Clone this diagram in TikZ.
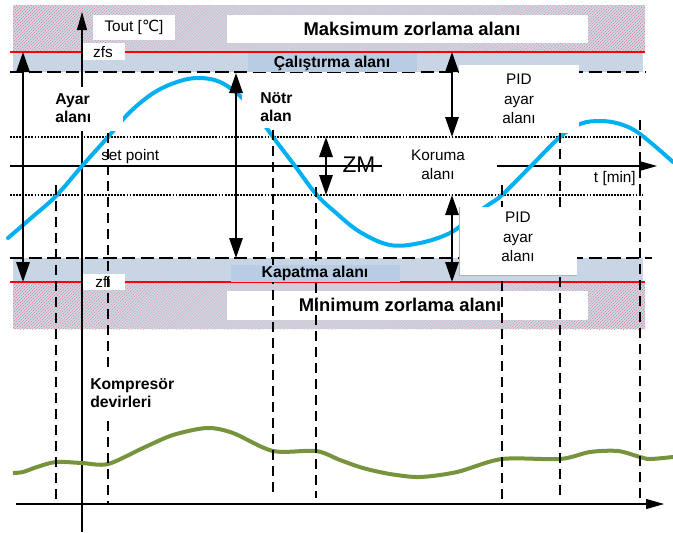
\documentclass[tikz,border=0pt]{standalone}
\usepackage{fontspec}
\setmainfont{Liberation Sans}
\newfontfamily\dejavu{DejaVu Sans}
\usetikzlibrary{arrows.meta,patterns.meta}

\definecolor{bandblue}{RGB}{200,213,229}
\definecolor{zoneblue}{RGB}{184,204,228}
\definecolor{tempblue}{RGB}{0,176,240}
\definecolor{speedgreen}{RGB}{119,147,60}

\tikzset{
  lbl/.style={font=\fontsize{11.5}{14.5}\selectfont, inner sep=0pt, align=center},
  blbl/.style={font=\bfseries\fontsize{11.8}{13.8}\selectfont, inner sep=0pt, align=left},
  bigbl/.style={font=\bfseries\fontsize{13.8}{16}\selectfont, inner sep=0pt},
  twohead/.style={{Triangle[width=10pt,length=15pt]}-{Triangle[width=10pt,length=15pt]}, line width=1.5pt},
  axis/.style={-{Triangle[width=7.5pt,length=13.5pt]}, line width=0.8pt},
  vline/.style={line width=1.5pt, dash pattern=on 7.5pt off 4.5pt},
  limline/.style={line width=2pt, dash pattern=on 10pt off 4pt},
  dotline/.style={line width=1.8pt, dash pattern=on 1.4pt off 0.9pt},
  hatched/.style={fill=bandblue, postaction={pattern={Lines[angle=45, distance=2.1213pt, line width=0.3pt]}, pattern color=red!70}},
}

\begin{document}
\begin{tikzpicture}[x=0.75pt, y=-0.75pt]
  \useasboundingbox (0,0) rectangle (673,532);

  % forcing zones and control bands
  \fill[hatched] (13,5) rectangle (645,52);
  \fill[hatched] (13,282) rectangle (645,329);
  \fill[bandblue] (13,52) rectangle (643,72);
  \fill[bandblue] (13,258) rectangle (643,282);
  \draw[red, line width=1pt] (10,52) -- (645,52);
  \draw[red, line width=1pt] (10,282) -- (645,282);

  % white label boxes
  \fill[white] (93,15) rectangle (175,40);
  \fill[white] (82,43) rectangle (125,60);
  \fill[white] (227,15) rectangle (588,43);
  \fill[white] (227,291) rectangle (588,320);
  \fill[white] (82,274) rectangle (125,290);

  % limit and reference lines
  \draw[limline] (10,72) -- (645,72);
  \draw[limline] (10,258) -- (652,258);
  \draw[dotline] (10,137) -- (643,137);
  \draw[dotline] (10,195) -- (643,195);

  % axes
  \coordinate (tstart) at (10,166);
  \coordinate (tend) at (657,166);
  \coordinate (ybottom) at (82,532);
  \coordinate (ytop) at (82,12);
  \coordinate (nstart) at (16,504);
  \coordinate (nend) at (664,504);
  \draw[axis] (tstart) -- (tend);
  \draw[axis] (ybottom) -- (ytop);
  \draw[axis] (nstart) -- (nend);

  % temperature and compressor speed
  \draw[tempblue, line width=3pt, line cap=round] plot[smooth, tension=0.6] coordinates {
    (8,238) (30,219) (56,196) (82,166) (108,137) (130,112) (155,92) (180,81)
    (200,78) (220,82) (240,96) (258,116) (273,137) (295,166) (316,194)
    (335,212) (360,232) (390,245) (420,243) (450,233) (470,218) (488,205)
    (502,195) (531,166) (560,137) (580,124) (600,121) (620,124) (640,134) (673,162)};
  \draw[speedgreen, line width=3pt] plot[smooth, tension=0.5] coordinates {
    (13,473) (23,472) (37,467) (56,462) (82,463) (108,464) (143,448) (173,435)
    (207,428) (233,433) (273,451) (316,451) (340,460) (363,468) (390,474)
    (420,477) (457,472) (502,459) (560,459) (590,452) (618,451) (640,457)
    (650,459) (673,457)};

  \node[lbl, anchor=west] (setp) at (101,157) {set point};
  \node[lbl] (zfi) at (103,282) {zfi};

  % switching instants
  \foreach \xs/\ya/\yb in {56/185/504, 108/133/504, 273/130/498, 316/187/498,
                           502/185/504, 560/133/498, 640/120/498}
    \draw[vline] (\xs,\ya) -- (\xs,\yb);

  \fill[zoneblue] (248,53) rectangle (417,72);
  \fill[zoneblue] (231,265) rectangle (400,282);

  % boxes behind the free labels
  \fill[white] (459,65) rectangle (579,133);
  \fill[white] (459,207) rectangle (577,275);
  \draw[gray!60, line width=0.4pt] (459,207) -- (459,275) -- (577,275);
  \fill[white] (50,87) rectangle (123,131);
  \fill[white] (242,86) rectangle (300,128);
  \fill[white] (382,143) rectangle (497,188);
  \fill[white] (88,372) rectangle (176,418);

  % range arrows
  \coordinate (ayarT) at (23,52);
  \coordinate (ayarB) at (23,282);
  \coordinate (notrT) at (236,73);
  \coordinate (notrB) at (236,258);
  \coordinate (zmT) at (326,137);
  \coordinate (zmB) at (326,195);
  \coordinate (pidupT) at (452,52);
  \coordinate (pidupB) at (452,137);
  \coordinate (piddnT) at (452,195);
  \coordinate (piddnB) at (452,282);
  \draw[twohead] (ayarT) -- (ayarB);
  \draw[twohead] (notrT) -- (notrB);
  \draw[twohead] (zmT) -- (zmB);
  \draw[twohead] (pidupT) -- (pidupB);
  \draw[twohead] (piddnT) -- (piddnB);

  % labels
  \node[lbl] (tout) at (134,27) {Tout [{\dejavu ℃}]};
  \node[lbl] (zfs) at (103,52) {zfs};
  \node[bigbl] (maks) at (412,29) {Maksimum zorlama alanı};
  \node[blbl] (calis) at (332,63) {Çalıştırma alanı};
  \node[blbl, anchor=west] (ayar) at (55,108) {Ayar\\alanı};
  \node[blbl, anchor=west] (notr) at (260,107) {Nötr\\alan};
  \node[lbl, font=\fontsize{17}{20}\selectfont] (zm) at (359,165) {ZM};
  \node[lbl] (koruma) at (438,165) {Koruma\\alanı};
  \node[lbl, anchor=east] (tmin) at (636,179) {t [min]};
  \node[lbl] (pidup) at (519,99) {PID\\ayar\\alanı};
  \node[lbl] (piddn) at (518,237) {PID\\ayar\\alanı};
  \node[blbl] (kapatma) at (315,273) {Kapatma alanı};
  \node[bigbl] (mini) at (400,305) {Minimum zorlama alanı};
  \node[blbl, anchor=west] (kompr) at (90,393) {Kompresör\\devirleri};
\end{tikzpicture}
\end{document}
